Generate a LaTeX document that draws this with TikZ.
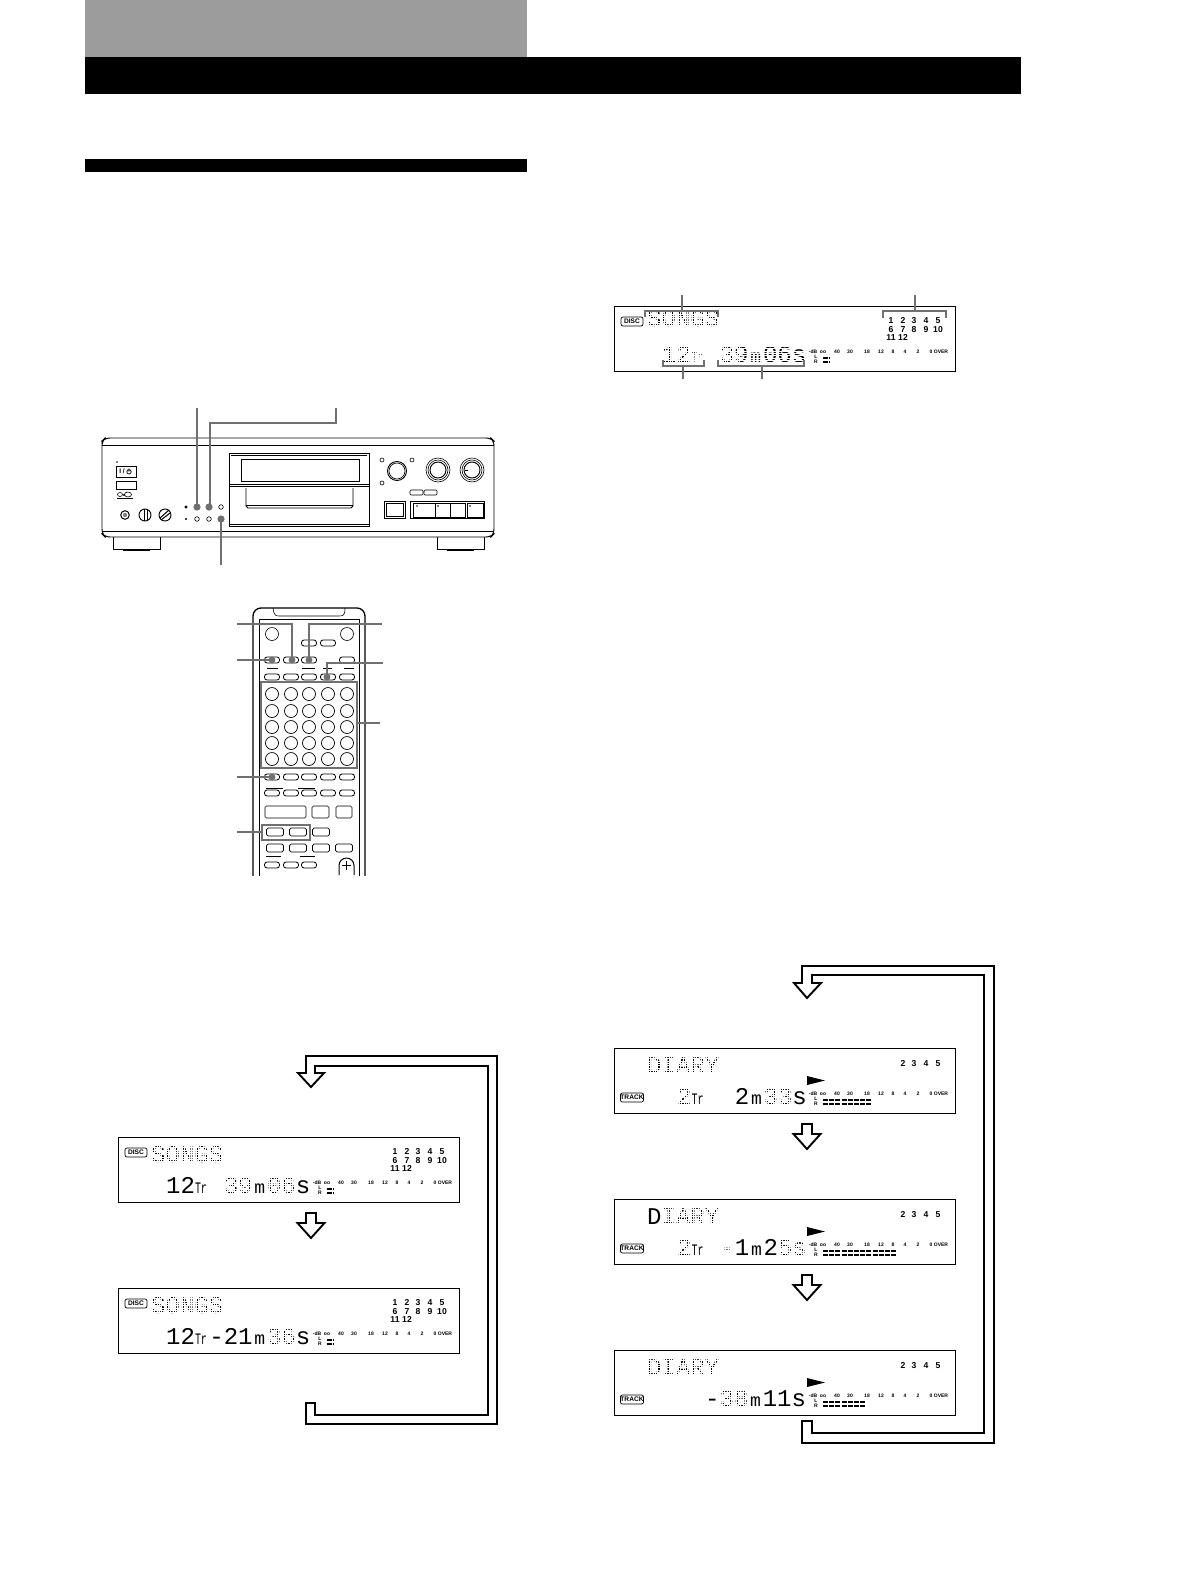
\documentclass[tikz,border=0pt]{standalone}
\usepackage{fontspec}
\setmainfont{Liberation Sans}
\newfontfamily\lcdfont{Liberation Mono}
\newfontfamily\lcdnarrow[FakeStretch=0.62]{Liberation Mono}
\definecolor{lcdlight}{gray}{0}
\definecolor{leader}{gray}{0.44}
\definecolor{band}{gray}{0.61}
\newcommand\lcdL{\lcdfont\fontsize{24}{24}\selectfont}
\newcommand\lt[1]{\textcolor{lcdlight}{#1}}
\newcommand\TR{\makebox[14.4pt][l]{\lcdnarrow\fontsize{16}{16}\selectfont Tr}}
\newcommand\MM{\makebox[14.4pt][c]{\lcdfont\fontsize{18}{18}\selectfont m}}
\tikzset{
  lcdtext/.style={anchor=base west,inner sep=0pt,font=\lcdL},
  numtext/.style={anchor=base,inner sep=0pt,font=\bfseries\fontsize{8.6}{8.6}\selectfont},
  scaletext/.style={inner sep=0pt,font=\bfseries\fontsize{5}{5}\selectfont},
  badge/.style={draw,rounded corners=2pt,line width=0.7pt,minimum width=22pt,minimum height=9pt,inner sep=0pt,font=\bfseries\fontsize{6.6}{6.6}\selectfont},
  lcdframe/.style={draw,line width=0.9pt,fill=white},
  thick arrow/.style={draw=black,line width=1.9pt,fill=white,miter limit=10},
  gline/.style={draw=leader,line width=2.4pt},
  gthin/.style={draw=leader,line width=1.6pt},
  gframe/.style={draw=leader,line width=2.4pt},
  dev/.style={draw=black,line width=0.6pt},
  devh/.style={draw=black,line width=0.95pt},
  pill/.style={shape=rectangle,draw=black,line width=0.8pt,rounded corners=2.6pt,minimum width=15pt,minimum height=6pt,inner sep=0pt,fill=white},
  recpill/.style={shape=rectangle,draw=black,line width=0.8pt,rounded corners=1.6pt,minimum width=17pt,minimum height=8pt,inner sep=0pt,fill=white},
  rkey/.style={shape=circle,draw=black,line width=0.7pt,minimum size=13pt,inner sep=0pt,fill=white},
  levelbar/.style={line width=1.7pt,dash pattern=on 5pt off 1.2pt}
}
% white raster laid over a text run, to break its strokes into dots
\newcommand\dg[4]{%
  \begin{scope}
    \clip (#1,#2) rectangle (#3,#4);
    \foreach \k in {0,...,12} \draw[white,line width=0.55pt] (#1,{#2+\k*2.3}) -- (#3,{#2+\k*2.3});
    \foreach \k in {0,...,34} \draw[white,line width=0.55pt] ({#1+\k*2.3},#2) -- ({#1+\k*2.3},#4);
  \end{scope}}
\newcommand\lcdbase[3]{%
  \draw[lcdframe] (#2,#3) rectangle ++(341,65);
  \begin{scope}[shift={(#2,#3)}]
    \foreach \xx/\tt/\nm in {199/-dB/a,209/oo/b,223/40/c,236/30/d,253/18/e,267/12/f,279/8/g,291/4/h,304/2/i,317/0/j,327/OVER/k}
      \node[scaletext] (#1s\nm) at (\xx,46) {\tt};
    \node[scaletext] (#1sL) at (202,51) {L};
    \node[scaletext] (#1sR) at (202,56) {R};
  \end{scope}}
\newcommand\bars[4]{%
  \begin{scope}[shift={(#1,#2)}]
    \draw[levelbar] (209,52) -- (#3,52);
    \draw[levelbar] (209,56) -- (#4,56);
  \end{scope}}
\newcommand\discbadge[3]{\node[badge] (#1badge) at ($(#2,#3)+(18,15.5)$) {DISC};}
\newcommand\trackbadge[3]{\node[badge] (#1badge) at ($(#2,#3)+(18,49.5)$) {TRACK};}
\newcommand\nums[3]{%
  \begin{scope}[shift={(#2,#3)}]
    \foreach \xx/\yy/\tt/\nm in {277/17/1/a,289/17/2/b,300/17/3/c,312/17/4/d,324/17/5/e,277/26/6/f,289/26/7/g,300/26/8/h,312/26/9/i,324/26/10/j,277/34/11/k,289/34/12/l}
      \node[numtext] (#1n\nm) at (\xx,\yy) {\tt};
  \end{scope}}
\newcommand\numsshort[3]{%
  \begin{scope}[shift={(#2,#3)}]
    \foreach \xx/\tt/\nm in {289/2/b,300/3/c,312/4/d,324/5/e}
      \node[numtext] (#1n\nm) at (\xx,18) {\tt};
    \fill (193,28) -- (211,32.5) -- (193,37) -- cycle;
  \end{scope}}
\newcommand\smallarrow[2]{%
  \draw[thick arrow] (#1-5,#2) -- (#1+5,#2) -- (#1+5,#2+10) -- (#1+13.5,#2+10) -- (#1,#2+25) -- (#1-13.5,#2+10) -- (#1-5,#2+10) -- cycle;}
\usetikzlibrary{calc}
\begin{document}
\begin{tikzpicture}[x=1pt,y=-1pt,line join=miter]
\useasboundingbox (0,0) rectangle (1190,1588);
\fill[white] (0,0) rectangle (1190,1588);
% header bands
\fill[band] (85,0) rectangle (527,57);
\fill[black] (85,57) rectangle (1021,94);
\fill[black] (85,159) rectangle (527,171.5);

% ---------- top display ----------
\lcdbase{t}{614}{306}
\discbadge{t}{614}{306}
\node[lcdtext] (ttitle) at (647,326) {\lt{SONGS}};
\node[lcdtext] (tline) at (662,362) {\lt{12\TR\ 39\MM06s}};
\dg{646}{307}{724}{330}
\dg{661}{344}{808}{366}
\nums{t}{614}{306}
\bars{614}{306}{216}{216}
\draw[gthin] (682,295) -- (682,311) (645,317) -- (645,311) -- (718,311) -- (718,317);
\draw[gthin] (915,295) -- (915,311) (883,318) -- (883,311) -- (946,311) -- (946,318);
\draw[gthin] (663,360) -- (663,366) -- (704,366) -- (704,360) (683,366) -- (683,379);
\draw[gthin] (718,360) -- (718,366) -- (804,366) -- (804,360) (762,366) -- (762,379);

% ---------- deck ----------
\draw[devh,rounded corners=5pt] (102,445) -- (102,441) -- (105,438) -- (491,438) -- (494,441) -- (494,534) -- (491,537) -- (105,537) -- (102,534) -- cycle;
\draw[devh] (102,445) -- (494,445) (102,531) -- (494,531);
\foreach \fx in {113,437}{
  \draw[dev] (\fx,537) -- (\fx,549) -- (\fx+47,549) -- (\fx+47,537);
  \draw[line width=1.4pt] (\fx+10,550) -- (\fx+37,550);
}
% cassette window
\draw[dev] (229,453) rectangle (369,484);
\draw[dev] (231,455) -- (367,455);
\draw[dev] (241,459) rectangle (359,481);
\draw[devh] (229,486) -- (369,486);
\draw[dev] (229,484) -- (229,526) -- (369,526) -- (369,484);
\draw[dev] (229,524.5) -- (369,524.5);
\draw[devh] (246,488) -- (246,506) -- (248,508) -- (351,508) -- (353,506) -- (353,488);
\draw[dev] (246,505) -- (353,505);
% power area
\fill (117,462) circle (0.9);
\draw[dev] (116,466) rectangle (136,477);
\node[inner sep=0pt,font=\bfseries\fontsize{6.5}{6.5}\selectfont] (powerlabel) at (122,471.5) {I /};
\draw[line width=0.7pt] (129,471.8) circle (2.2) (129,468.5) -- (129,471.5);
\draw[dev] (116,481) rectangle (136,489);
\draw[dev] (120,494.5) ellipse (2.5 and 2) (128,494.5) ellipse (3.5 and 2.5);
\draw[line width=0.9pt] (117,498) -- (133,498);
\fill (124,495) circle (1.2);
% jack and knobs
\draw[line width=1pt] (125,515) circle (4.3);
\fill[gray] (125,515) circle (2.2);
\draw[devh] (145,515) circle (6);
\draw[line width=1pt] (144,509) -- (144,521) (147,509) -- (147,521);
\draw[devh] (165,515) circle (6);
\draw[line width=1pt] (160,518) -- (169,510) (161,520) -- (170,513);
% small buttons
\fill (186,507) circle (1.6) (186,519) circle (1.2);
\draw[dev] (197,519) circle (2.3) (209,519) circle (2.3) (221,507) circle (2.3);
\fill[leader] (197,507) circle (3.6) (209,507) circle (3.6) (221,519) circle (3.6);
\draw[gline] (197,408) -- (197,507);
\draw[gline] (336,408) -- (336,423) -- (210,423) -- (210,507);
\draw[gline] (221,519) -- (221,565);
% right hand knobs
\draw[dev] (382,460) circle (2) (412,460) circle (2) (382,483) circle (2);
\draw[devh] (397,471) circle (9.5);
\draw[dev] (397,471) circle (8);
\foreach \kx in {438,472}{
  \draw[dev] (\kx,470) circle (12) (\kx,470) circle (10);
  \draw[devh] (\kx,470) circle (8);
}
\draw[dev] (464.5,470) -- (468,470);
\draw[dev,rounded corners=1pt] (410,490) rectangle (423,495);
\draw[dev,rounded corners=1pt] (424,490) rectangle (437,495);
\draw[dev] (384,501) rectangle (405,518);
\draw[dev] (386,503) rectangle (403,516);
\draw[dev] (410,501) rectangle (484,518);
\draw[dev] (413,503) rectangle (465,517);
\draw[dev] (467,503) rectangle (483,517);
\draw[devh] (435,503) -- (435,517);
\draw[dev] (450,503) -- (450,517);
\fill (417,506) circle (0.9) (438,506) circle (0.9) (470,506) circle (0.9);

% ---------- remote ----------
\begin{scope}
\clip (245,600) rectangle (375,875);
\draw[line width=1.3pt,rounded corners=8pt] (253,890) -- (253,608) -- (365,608) -- (365,890);
\draw[dev] (259,880) -- (259,619) -- (359,619) -- (359,880);
\draw[dev] (273,608) .. controls (274,616) and (276,616) .. (280,616) -- (338,616) .. controls (343,616) and (345,616) .. (345,608);
\end{scope}
\draw[dev] (272,634) circle (6.5) (347,634) circle (6.5);
\node[pill] (r1) at (309,643) {};
\node[pill] (r2) at (328,643) {};
\draw[dev] (267,668) -- (278,668) (302,668) -- (315,668) (323,668) -- (332,668) (344,668) -- (354,668);
\foreach \xx in {272,291,309,347} \node[pill] (rx\xx) at (\xx,660) {};
\foreach \xx in {272,291,309,328,347} \node[pill] (ra\xx) at (\xx,677) {};
\foreach \yy in {694,711,727,743,759}
  \foreach \xx in {272,291,309,328,347}
    \node[rkey] (k\xx-\yy) at (\xx,\yy) {};
\draw[gframe] (261,682) rectangle (357,768);
\foreach \xx in {272,291,309,328,347} \node[pill] (rb\xx) at (\xx,777) {};
\draw[dev] (266,788) -- (283,788) (298,788) -- (315,788);
\foreach \xx in {272,291,309,328,347} \node[pill] (rc\xx) at (\xx,793) {};
\draw[dev,rounded corners=1.5pt] (265,806) rectangle (306,818);
\draw[dev,rounded corners=1.5pt] (312,806) rectangle (329,818);
\draw[dev,rounded corners=1.5pt] (336,806) rectangle (352,818);
\node[recpill] (r9) at (275,832) {};
\node[recpill] (r10) at (298,832) {};
\node[recpill] (r11) at (321,832) {};
\draw[gframe] (262,825) rectangle (310,840);
\foreach \xx in {275,298,321,344} \node[recpill] (rd\xx) at (\xx,848) {};
\draw[dev] (266,856) -- (281,856) (300,856) -- (315,856);
\foreach \xx in {272,291,309} \node[pill] (re\xx) at (\xx,865) {};
\draw[line width=1pt] (339,875) -- (339,865.5) arc (180:360:7.5) -- (354,875);
\draw[line width=1.7pt] (346.5,861) -- (346.5,870) (342,865.5) -- (351,865.5);
% remote leaders
\draw[gline] (237,624) -- (292,624) -- (292,660);
\draw[gline] (382,624) -- (309,624) -- (309,660);
\draw[gline] (237,660) -- (272,660);
\draw[gline] (383,663) -- (327,663) -- (327,677);
\draw[gline] (380,723) -- (357,723);
\draw[gline] (237,777) -- (272,777);
\draw[gline] (237,832) -- (262,832);
\fill[leader] (272,660) circle (3.4) (292,660) circle (3.4) (309,660) circle (3.4) (327,677) circle (3.4) (272,777) circle (3.4);

% ---------- left sequence ----------
\draw[thick arrow] (306,1056) -- (497,1056) -- (497,1424) -- (306,1424) -- (306,1403) -- (315,1403) -- (315,1415) -- (488,1415) -- (488,1066) -- (315,1066) -- (315,1073) -- (324,1073) -- (311,1087) -- (298,1073) -- (306,1073) -- cycle;
\lcdbase{l}{118}{1137}
\discbadge{l}{118}{1137}
\node[lcdtext] (ltitlea) at (151,1162) {\lt{SONGS}};
\node[lcdtext] (llinea) at (166,1193) {12\TR\ \lt{39}\MM\lt{06}s};
\dg{150}{1143}{228}{1166}
\dg{223}{1175}{252}{1196}
\dg{267}{1175}{296}{1196}
\nums{l}{118}{1137}
\bars{118}{1137}{216}{216}
\smallarrow{311}{1213}
\lcdbase{m}{118}{1288}
\discbadge{m}{118}{1288}
\node[lcdtext] (ltitleb) at (151,1313) {\lt{SONGS}};
\node[lcdtext] (llineb) at (166,1344) {12\TR-21\MM\lt{36}s};
\dg{150}{1294}{228}{1317}
\dg{267}{1326}{296}{1347}
\nums{m}{118}{1288}
\bars{118}{1288}{216}{216}

% ---------- right sequence ----------
\draw[thick arrow] (802,966) -- (994,966) -- (994,1443) -- (802,1443) -- (802,1421) -- (812,1421) -- (812,1433) -- (984,1433) -- (984,975) -- (812,975) -- (812,983) -- (821,983) -- (807,998) -- (794,983) -- (802,983) -- cycle;
\lcdbase{a}{614}{1048}
\trackbadge{a}{614}{1048}
\node[lcdtext] (rtitlea) at (647,1073) {\lt{DIARY}};
\node[lcdtext] (rlinea) at (677,1104) {\lt{2}\TR\ \ 2\MM\lt{33}s};
\dg{646}{1054}{724}{1077}
\dg{677}{1086}{692}{1107}
\dg{764}{1086}{793}{1107}
\numsshort{a}{614}{1048}
\bars{614}{1048}{258}{258}
\smallarrow{807}{1124}
\lcdbase{b}{614}{1199}
\trackbadge{b}{614}{1199}
\node[lcdtext] (rtitleb) at (647,1224) {D\lt{IARY}};
\node[lcdtext] (rlineb) at (677,1255) {\lt{2}\TR\ \lt{-}1\MM2\lt{5s}};
\dg{661}{1205}{724}{1228}
\dg{677}{1237}{692}{1258}
\dg{721}{1237}{735}{1258}
\dg{778}{1237}{808}{1258}
\numsshort{b}{614}{1199}
\bars{614}{1199}{282}{282}
\smallarrow{807}{1275}
\lcdbase{c}{614}{1350}
\trackbadge{c}{614}{1350}
\node[lcdtext] (rtitlec) at (647,1375) {\lt{DIARY}};
\node[lcdtext] (rlinec) at (705,1406) {-\lt{38}\MM11s};
\dg{646}{1356}{724}{1379}
\dg{720}{1388}{749}{1409}
\numsshort{c}{614}{1350}
\bars{614}{1350}{251}{251}
\end{tikzpicture}
\end{document}
